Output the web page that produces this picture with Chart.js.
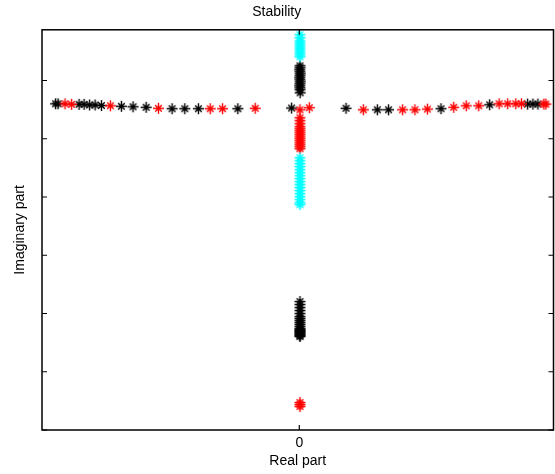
<!DOCTYPE html>
<html>
<head>
<meta charset="utf-8">
<script src="https://cdn.jsdelivr.net/npm/chart.js@4.4.0/dist/chart.umd.min.js"></script>
<style>
html, body { margin: 0; padding: 0; background: #fff; }
</style>
</head>
<body>
<canvas id="mycanvas" width="555" height="474"></canvas>
<script>
// pole locations (arbitrary units, ticks at integers)
var blackRe = [-1.111, -1.100, -1.004, -0.981, -0.956, -0.931, -0.902, -0.811, -0.758, -0.698,
  -0.580, -0.522, -0.460, -0.280, -0.035, 0.213, 0.356, 0.407, 0.646, 0.868, 1.041, 1.065, 1.088,
  0.003, 0.003, 0.002, 0.003, 0.004, 0.003, 0.002, 0.003, 0.004, 0.003, 0.002, 0.003, 0.003, 0.004,
  0.003, 0.003, 0.003, 0.003, 0.003, 0.003, 0.003, 0.003, 0.003, 0.003, 0.003, 0.003, 0.003, 0.003,
  0.003, 0.003, 0.003, 0.003, 0.003, 0.003];
var blackIm = [5.600, 5.600, 5.590, 5.590, 5.580, 5.580, 5.570, 5.557, 5.549, 5.540,
  5.515, 5.515, 5.515, 5.515, 5.527, 5.523, 5.497, 5.497, 5.515, 5.583, 5.595, 5.595, 5.595,
  6.252, 6.218, 6.184, 6.149, 6.115, 6.081, 6.046, 6.012, 5.978, 5.943, 5.909, 5.875, 5.841, 5.789,
  2.204, 2.153, 2.101, 2.050, 1.998, 1.947, 1.913, 1.878, 1.844, 1.810, 1.775, 1.741, 1.724, 1.707,
  1.690, 1.672, 1.655, 1.638, 1.621, 1.604];

var redRe = [-1.068, -1.038, -0.861, -0.642, -0.406, -0.350, -0.201, 0.003, 0.046, 0.292, 0.471,
  0.527, 0.584, 0.704, 0.761, 0.818, 0.911, 0.950, 0.987, 1.013, 1.115, 1.124,
  0.003, 0.003, 0.003, 0.003, 0.003, 0.003, 0.003, 0.003, 0.003, 0.003, 0.003, 0.003, 0.003, 0.003, 0.003,
  0.003, 0.003, 0.003];
var redIm = [5.600, 5.590, 5.566, 5.523, 5.515, 5.515, 5.523, 5.497, 5.532, 5.497, 5.497,
  5.497, 5.509, 5.540, 5.566, 5.566, 5.600, 5.600, 5.600, 5.600, 5.595, 5.595,
  5.360, 5.309, 5.257, 5.206, 5.172, 5.137, 5.103, 5.069, 5.034, 5.000, 4.966, 4.931, 4.897, 4.863, 4.829,
  0.472, 0.437, 0.403];

var cyanRe = [0.003, 0.003, 0.003, 0.003, 0.003, 0.003, 0.003, 0.003, 0.003, 0.003, 0.003,
  0.003, 0.003, 0.003, 0.003, 0.003, 0.003, 0.003, 0.003, 0.003, 0.003, 0.003, 0.003, 0.003, 0.003,
  0.003, 0.003, 0.003];
var cyanIm = [6.784, 6.732, 6.681, 6.647, 6.612, 6.578, 6.544, 6.509, 6.475, 6.441, 6.407,
  4.674, 4.623, 4.571, 4.520, 4.468, 4.417, 4.365, 4.314, 4.262, 4.211, 4.160, 4.108, 4.057, 4.005,
  3.954, 3.902, 3.868];

var xMin = -1.173, xMax = 1.159;
var yMin = 0, yMax = 6.87;

function zip(re, im) {
  var out = [];
  for (var i = 0; i < re.length; i++) {
    out.push({x: re[i], y: im[i]});
  }
  return out;
}

// gnuplot style asterisk marker
function star(color) {
  var c = document.createElement('canvas');
  c.width = 13; c.height = 13;
  var g = c.getContext('2d');
  g.strokeStyle = color;
  g.lineWidth = 1.4;
  g.beginPath();
  g.moveTo(1, 6.5); g.lineTo(12, 6.5);
  g.moveTo(6.5, 1); g.lineTo(6.5, 12);
  g.moveTo(3.2, 3.2); g.lineTo(9.8, 9.8);
  g.moveTo(9.8, 3.2); g.lineTo(3.2, 9.8);
  g.stroke();
  return c;
}

function isWhole(v) {
  return Math.abs(v - Math.round(v)) < 1e-6;
}

var framePlugin = {
  id: 'frame',
  afterDatasetsDraw: function(chart) {
    var ctx = chart.ctx, a = chart.chartArea;
    var xs = chart.scales.x, ys = chart.scales.y;
    ctx.save();
    ctx.strokeStyle = '#000';
    ctx.lineWidth = 1.2;
    ctx.beginPath();
    xs.ticks.forEach(function(t) {
      if (!isWhole(t.value)) return;
      var px = xs.getPixelForValue(t.value);
      ctx.moveTo(px, a.bottom); ctx.lineTo(px, a.bottom - 5);
      ctx.moveTo(px, a.top); ctx.lineTo(px, a.top + 5);
    });
    ys.ticks.forEach(function(t) {
      if (!isWhole(t.value)) return;
      var py = ys.getPixelForValue(t.value);
      ctx.moveTo(a.left, py); ctx.lineTo(a.left + 5, py);
      ctx.moveTo(a.right, py); ctx.lineTo(a.right - 5, py);
    });
    ctx.stroke();
    ctx.lineWidth = 1.5;
    ctx.strokeRect(a.left, a.top, a.right - a.left, a.bottom - a.top);
    ctx.restore();
  }
};

var font = {family: "'Liberation Sans', Arial, sans-serif", size: 14, weight: 'normal'};

var ctx = document.getElementById('mycanvas');
var chart = new Chart(ctx, {
  type: 'scatter',
  data: {
    datasets: [
      {label: 'cyan', data: zip(cyanRe, cyanIm), pointStyle: star('#00ffff'), pointRadius: 6},
      {label: 'red', data: zip(redRe, redIm), pointStyle: star('#ff0000'), pointRadius: 6},
      {label: 'black', data: zip(blackRe, blackIm), pointStyle: star('#000000'), pointRadius: 6}
    ]
  },
  options: {
    responsive: false,
    animation: false,
    events: [],
    layout: {autoPadding: false, padding: {left: 0, right: 1.5, top: 0, bottom: 0}},
    plugins: {
      legend: {display: false},
      tooltip: {enabled: false},
      title: {
        display: true,
        text: 'Stability',
        color: '#000',
        font: font,
        padding: {top: 4, bottom: 9}
      }
    },
    scales: {
      x: {
        type: 'linear',
        min: xMin,
        max: xMax,
        border: {display: false},
        grid: {display: false, drawTicks: false},
        ticks: {
          stepSize: 1,
          autoSkip: false,
          maxRotation: 0,
          padding: 5,
          color: '#000',
          font: font,
          callback: function(v) { return Math.abs(v) < 1e-9 ? '0' : ''; }
        },
        title: {display: true, text: 'Real part', color: '#000', font: font, padding: {top: 0, bottom: 4}},
        afterFit: function(s) { s.height = 44; s.paddingLeft = 0; s.paddingRight = 0; }
      },
      y: {
        type: 'linear',
        min: yMin,
        max: yMax,
        border: {display: false},
        grid: {display: false, drawTicks: false},
        ticks: {stepSize: 1, display: false},
        title: {display: true, text: 'Imaginary part', color: '#000', font: font, padding: {top: 12, bottom: 0}},
        afterFit: function(s) { s.width = 42; s.paddingTop = 0; s.paddingBottom = 0; }
      }
    }
  },
  plugins: [framePlugin]
});
</script>
</body>
</html>
